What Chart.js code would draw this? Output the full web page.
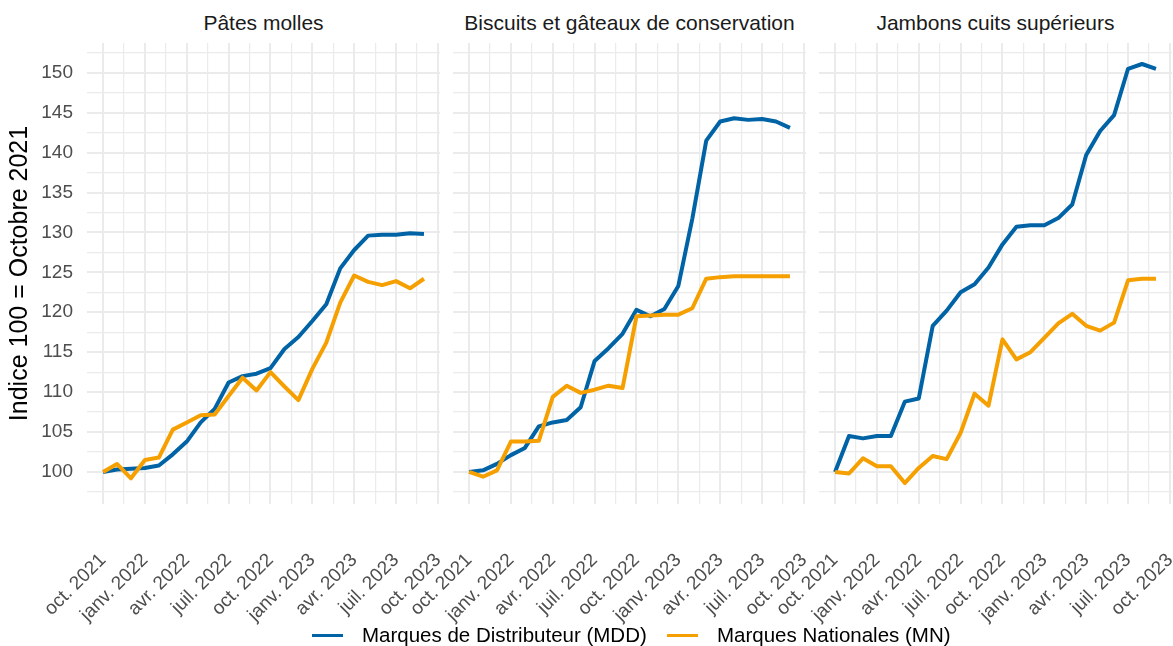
<!DOCTYPE html>
<html lang="fr">
<head>
<meta charset="utf-8">
<script src="https://cdn.jsdelivr.net/npm/chart.js@4.4.1/dist/chart.umd.min.js"></script>
<style>
    html, body { margin: 0; padding: 0; background: #fff; }
    #wrap {
        position: relative; width: 1173px; height: 646px; overflow: hidden;
        font-family: "Liberation Sans", Arial, sans-serif;
    }
    .panel { position: absolute; top: 43px; }
    .strip {
        position: absolute; top: 12px; width: 353px; text-align: center;
        font-size: 21px; line-height: 1; color: #1a1a1a; white-space: nowrap;
    }
    .key { position: absolute; top: 634px; width: 31px; height: 3px; }
    .ltext {
        position: absolute; top: 625px; font-size: 20.5px; line-height: 1;
        color: #000; white-space: nowrap;
    }
</style>
</head>
<body>
<div id="wrap">
    <div class="strip" style="left:87px">Pâtes molles</div>
    <div class="strip" style="left:453px">Biscuits et gâteaux de conservation</div>
    <div class="strip" style="left:819px">Jambons cuits supérieurs</div>

    <canvas id="p1" class="panel" style="left:0px"></canvas>
    <canvas id="p2" class="panel" style="left:353px"></canvas>
    <canvas id="p3" class="panel" style="left:719px"></canvas>

    <div class="key" style="left:312px; background:#0063a6"></div>
    <div class="ltext" style="left:362px">Marques de Distributeur (MDD)</div>
    <div class="key" style="left:667px; background:#f5a000"></div>
    <div class="ltext" style="left:717px">Marques Nationales (MN)</div>
</div>

<script>
// ============================================
// Data
// ============================================
const months = [
    '2021-10', '2021-11', '2021-12', '2022-01', '2022-02', '2022-03',
    '2022-04', '2022-05', '2022-06', '2022-07', '2022-08', '2022-09',
    '2022-10', '2022-11', '2022-12', '2023-01', '2023-02', '2023-03',
    '2023-04', '2023-05', '2023-06', '2023-07', '2023-08', '2023-09'
];

const patesMDD = [100, 100.3, 100.4, 100.5, 100.8, 102.2, 103.8, 106.2, 107.9, 111.2, 112.0, 112.3,
                  113.0, 115.4, 116.9, 118.9, 121.0, 125.5, 127.8, 129.6, 129.7, 129.7, 129.9, 129.8];
const patesMN = [100, 101.0, 99.2, 101.5, 101.8, 105.3, 106.2, 107.1, 107.2, 109.5, 111.8, 110.2,
                 112.5, 110.7, 109.0, 112.9, 116.2, 121.2, 124.6, 123.8, 123.4, 123.9, 123.0, 124.2];

const biscMDD = [100, 100.2, 101.0, 102.1, 103.0, 105.7, 106.2, 106.5, 108.1, 113.9, 115.5, 117.3,
                 120.3, 119.5, 120.4, 123.3, 131.7, 141.5, 143.9, 144.3, 144.1, 144.2, 143.9, 143.1];
const biscMN = [100, 99.4, 100.2, 103.8, 103.8, 103.9, 109.4, 110.8, 109.9, 110.3, 110.8, 110.5,
                119.5, 119.6, 119.7, 119.7, 120.5, 124.2, 124.4, 124.5, 124.5, 124.5, 124.5, 124.5];

const jambMDD = [100, 104.5, 104.2, 104.5, 104.5, 108.8, 109.2, 118.3, 120.2, 122.5, 123.5, 125.6,
                 128.5, 130.7, 130.9, 130.9, 131.8, 133.5, 139.7, 142.7, 144.7, 150.5, 151.1, 150.5];
const jambMN = [100, 99.8, 101.7, 100.7, 100.7, 98.6, 100.5, 102.0, 101.6, 104.9, 109.8, 108.3,
                116.6, 114.1, 115.0, 116.8, 118.6, 119.8, 118.3, 117.7, 118.7, 124.0, 124.2, 124.2];

const xTickLabels = ['oct. 2021', 'janv. 2022', 'avr. 2022', 'juil. 2022', 'oct. 2022',
                     'janv. 2023', 'avr. 2023', 'juil. 2023', 'oct. 2023'];
const yTickValues = [100, 105, 110, 115, 120, 125, 130, 135, 140, 145, 150];

// ============================================
// Styling
// ============================================
const COLOR_MDD = '#0063a6';
const COLOR_MN = '#f5a000';
const GRID = '#ebebeb';
const FONT = '"Liberation Sans", Arial, sans-serif';
const PLOT_W = 353;
const PLOT_H = 461;
const CANVAS_H = 603;

// months since oct. 2021
function monthOffset(m) {
    const [y, mo] = m.split('-').map(Number);
    return (y - 2021) * 12 + (mo - 10);
}

function toPoints(values) {
    return values.map((v, i) => ({ x: monthOffset(months[i]), y: v }));
}

function xGridTicks(scale) {
    const ticks = [];
    xTickLabels.forEach((lab, i) => {
        ticks.push({ value: i * 3 });
        if (i < xTickLabels.length - 1) ticks.push({ value: i * 3 + 1.5 });
    });
    scale.ticks = ticks;
}

function yGridTicks(scale) {
    const ticks = [{ value: yTickValues[0] - 2.5 }];
    yTickValues.forEach(v => {
        ticks.push({ value: v });
        ticks.push({ value: v + 2.5 });
    });
    scale.ticks = ticks;
}

// keep the plot box fixed: no extra room for overhanging labels
function noPadding(s) {
    s.paddingLeft = 0;
    s.paddingRight = 0;
    s.paddingTop = 0;
    s.paddingBottom = 0;
}

function makePanel(id, mdd, mn, axisW, showY) {
    const canvas = document.getElementById(id);
    canvas.width = axisW + PLOT_W;
    canvas.height = CANVAS_H;

    return new Chart(canvas, {
        type: 'line',
        data: {
            datasets: [
                {
                    label: 'Marques de Distributeur (MDD)',
                    data: toPoints(mdd),
                    borderColor: COLOR_MDD,
                    order: 1
                },
                {
                    label: 'Marques Nationales (MN)',
                    data: toPoints(mn),
                    borderColor: COLOR_MN,
                    order: 0
                }
            ]
        },
        options: {
            responsive: false,
            animation: false,
            layout: { autoPadding: false, padding: 0 },
            elements: {
                point: { radius: 0 },
                line: { borderWidth: 4, tension: 0, borderJoinStyle: 'round', fill: false }
            },
            plugins: {
                legend: { display: false },
                tooltip: { enabled: false }
            },
            scales: {
                x: {
                    type: 'linear',
                    min: -1.15,
                    max: 24.15,
                    afterBuildTicks: xGridTicks,
                    afterFit: s => { s.height = CANVAS_H - PLOT_H; noPadding(s); },
                    border: { display: false },
                    grid: {
                        drawTicks: false,
                        color: GRID,
                        lineWidth: c => (c.tick && c.tick.value % 3 === 0 ? 2 : 1.2)
                    },
                    ticks: {
                        autoSkip: false,
                        minRotation: 45,
                        maxRotation: 45,
                        padding: 53,
                        color: '#4d4d4d',
                        font: { family: FONT, size: 19, lineHeight: 0.01 },
                        callback: v => (v % 3 === 0 ? xTickLabels[v / 3] : '')
                    }
                },
                y: {
                    min: 95.98,
                    max: 153.73,
                    afterBuildTicks: yGridTicks,
                    afterFit: s => { s.width = axisW; noPadding(s); },
                    border: { display: false },
                    grid: {
                        drawTicks: false,
                        color: GRID,
                        lineWidth: c => (c.tick && c.tick.value % 5 === 0 ? 2 : 1.2)
                    },
                    ticks: {
                        display: showY,
                        autoSkip: false,
                        padding: 14,
                        color: '#4d4d4d',
                        font: { family: FONT, size: 19 },
                        callback: v => (v % 5 === 0 ? String(v) : '')
                    },
                    title: {
                        display: showY,
                        text: 'Indice 100 = Octobre 2021',
                        color: '#000',
                        font: { family: FONT, size: 25 },
                        padding: { top: 5, bottom: 0 }
                    }
                }
            }
        }
    });
}

makePanel('p1', patesMDD, patesMN, 87, true);
makePanel('p2', biscMDD, biscMN, 100, false);
makePanel('p3', jambMDD, jambMN, 100, false);
</script>
</body>
</html>
